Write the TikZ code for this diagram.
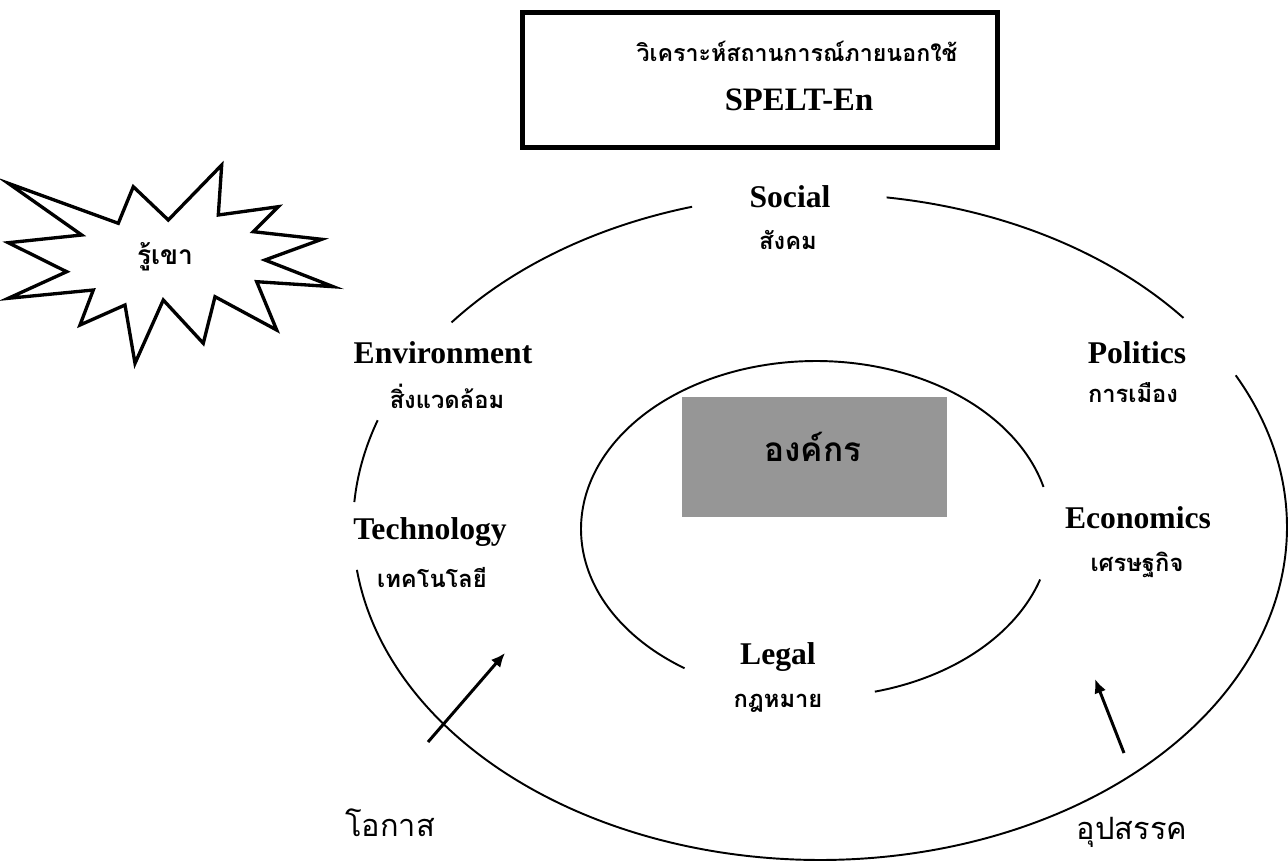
\documentclass[tikz,border=0pt]{standalone}
\usepackage{fontspec}
\setmainfont{Liberation Serif}
\newfontfamily\thai[Script=Thai]{Loma}
\usetikzlibrary{arrows.meta}
\begin{document}
\begin{tikzpicture}[x=0.02cm,y=-0.02cm,
  lat/.style={font=\fontsize{18}{20}\selectfont\bfseries, inner sep=0pt},
  th/.style={font=\thai\fontsize{13.5}{15}\selectfont\bfseries, inner sep=0pt},
  thb/.style={font=\thai\fontsize{17.5}{19}\selectfont, inner sep=0pt},
  ring/.style={line width=1.1pt},
  arr/.style={line width=1.7pt,-{Latex[length=8pt,width=7pt]}}]
\useasboundingbox (0,0) rectangle (1288,866);

% title box
\draw[line width=2.8pt] (522.5,12.5) rectangle (997.5,147.5);
\node[th, font=\thai\fontsize{13.2}{15}\selectfont\bfseries] (t1) at (797,51) {วิเคราะห์สถานการณ์ภายนอกใช้};
\node[lat, font=\fontsize{18.6}{20}\selectfont\bfseries] (t2) at (799,100) {SPELT-En};

% starburst
\draw[line width=1.9pt, line join=miter]
 (8.3,183.3) -- (118.3,223.3) -- (133.3,186.7) -- (168.3,220) -- (221.7,165) -- (218.3,215)
 -- (278.3,206.7) -- (253.3,231.7) -- (321.7,239.3) -- (265,260) -- (333.3,286.7) -- (256.7,281.7)
 -- (276.7,330) -- (215,296.7) -- (203.3,343.3) -- (163.3,300) -- (135,363.3) -- (125,305)
 -- (80,325) -- (93.3,290) -- (8.3,298.3) -- (66.7,271.7) -- (8.3,242.7) -- (81.7,235) -- cycle;
\node[th, font=\thai\fontsize{15}{17}\selectfont\bfseries] (know) at (165,257) {รู้เขา};

% outer ring segments (centre 820,527; radii 467,333)
\draw[ring] plot[domain=217.9:254.1, samples=60] ({820+467*cos(\x)},{527+333*sin(\x)});
\draw[ring] plot[domain=278.2:321.1, samples=60] ({820+467*cos(\x)},{527+333*sin(\x)});
\draw[ring] plot[domain=332.9:532.6, samples=200] ({820+467*cos(\x)},{527+333*sin(\x)});
\draw[ring] plot[domain=184.3:198.7, samples=30] ({820+467*cos(\x)},{527+333*sin(\x)});

% inner ring segments (centre 816,529; radii 235,168)
\draw[ring] plot[domain=17.5:75.5, samples=60] ({816+235*cos(\x)},{529+168*sin(\x)});
\draw[ring] plot[domain=124:345.5, samples=200] ({816+235*cos(\x)},{529+168*sin(\x)});

% organisation box
\fill[fill={rgb,255:red,150;green,150;blue,150}] (682,397) rectangle (947,517);
\node[th, font=\thai\fontsize{19}{21}\selectfont\bfseries] (org) at (813,447) {องค์กร};

% labels
\node[lat] (soc) at (790,197) {Social};
\node[th] (socT) at (788,240) {สังคม};
\node[lat] (env) at (443,353) {Environment};
\node[th] (envT) at (447,396) {สิ่งแวดล้อม};
\node[lat] (tech) at (430,532) {Technology};
\node[th] (techT) at (432,577) {เทคโนโลยี};
\node[lat] (pol) at (1137,353) {Politics};
\node[th] (polT) at (1133,393) {การเมือง};
\node[lat] (eco) at (1138,518) {Economics};
\node[th] (ecoT) at (1137,565) {เศรษฐกิจ};
\node[lat] (leg) at (778,657) {Legal};
\node[th] (legT) at (778,703) {กฎหมาย};

% opportunities / threats
\node[thb] (opp) at (390,823) {โอกาส};
\node[thb] (thr) at (1132,832) {อุปสรรค};
\coordinate (oppS) at (428,742);
\coordinate (oppE) at (505,653);
\coordinate (thrS) at (1124,753);
\coordinate (thrE) at (1095,679);
\draw[arr] (oppS) -- (oppE);
\draw[arr] (thrS) -- (thrE);
\end{tikzpicture}
\end{document}
